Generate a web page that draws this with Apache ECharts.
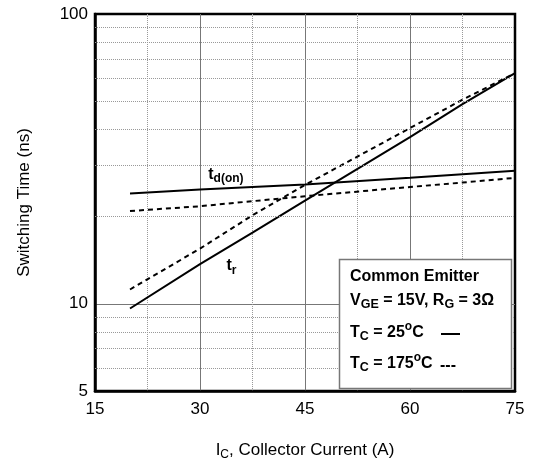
<!DOCTYPE html>
<html>
<head>
<meta charset="utf-8">
<script src="https://cdn.jsdelivr.net/npm/echarts@6/dist/echarts.min.js"></script>
<style>
html,body{margin:0;padding:0;background:#fff;}
#c{width:539px;height:466px;}
</style>
</head>
<body>
<div id="c"></div>
<script>
// Collector current (A)
const current = [20, 30, 37.5, 45, 60, 67.5, 75];
// Switching times (ns)
const tdOn25 = [24.0, 24.8, 25.3, 25.8, 27.2, 28.0, 28.8];
const tdOn175 = [20.9, 21.7, 22.6, 23.5, 25.3, 26.2, 27.2];
const tr25 = [9.63, 13.7, 17.6, 22.7, 37.6, 48.9, 62.5];
const tr175 = [11.2, 15.5, 20.2, 25.7, 40.4, 50.6, 62.5];
// Minor grid values on the log axis
const yMinorGrid = [6, 7, 8, 9, 20, 30, 40, 50, 60, 70, 80, 90];
const xTicks = [15, 30, 45, 60, 75];

const FONT = 'Liberation Sans, Arial, sans-serif';
const pairs = (ys) => current.map((x, i) => [x, ys[i]]);

const chart = echarts.init(document.getElementById('c'), null, {renderer: 'canvas'});

const subRich = {
  m: {fontSize: 16, fontWeight: 'bold', fontFamily: FONT, color: '#000'},
  s: {fontSize: 12, fontWeight: 'bold', fontFamily: FONT, color: '#000', padding: [9, 0, 0, 0]}
};

const legRich = {
  m: {fontSize: 16, fontWeight: 'bold', fontFamily: FONT, color: '#000'},
  s: {fontSize: 12.5, fontWeight: 'bold', fontFamily: FONT, color: '#000', padding: [8, 0, 0, 0]},
  p: {fontSize: 12, fontWeight: 'bold', fontFamily: FONT, color: '#000', padding: [0, 0, 12, 0]}
};

const option = {
  animation: false,
  backgroundColor: '#fff',
  grid: {left: 95, right: 24, top: 14, bottom: 74, show: true, borderColor: '#000', borderWidth: 2.5, backgroundColor: 'transparent'},
  xAxis: {
    type: 'value', min: 15, max: 75, interval: 15,
    axisLine: {show: true, lineStyle: {color: '#000', width: 2.5}},
    axisTick: {show: false},
    axisLabel: {color: '#000', fontSize: 17, fontFamily: FONT, margin: 10},
    splitLine: {show: true, showMinLine: false, showMaxLine: false, lineStyle: {color: '#777', width: 1}},
    minorTick: {show: false, splitNumber: 2},
    minorSplitLine: {show: true, lineStyle: {color: '#999', width: 1, type: [1, 1]}},
    name: '{m|I}{s|C}{m|, Collector Current (A)}',
    nameLocation: 'middle', nameGap: 49,
    nameTextStyle: {
      fontFamily: FONT, fontSize: 17, color: '#000',
      rich: {m: {fontSize: 17, fontFamily: FONT, color: '#000'}, s: {fontSize: 12, fontFamily: FONT, color: '#000', padding: [9, 0, 0, 0]}}
    }
  },
  yAxis: {
    type: 'log', logBase: 10, min: 5, max: 100,
    axisLine: {show: true, lineStyle: {color: '#000', width: 2.5}},
    axisTick: {show: false},
    axisLabel: {color: '#000', fontSize: 17, fontFamily: FONT, margin: 7},
    splitLine: {show: true, showMinLine: false, showMaxLine: false, lineStyle: {color: '#777', width: 1}},
    name: 'Switching Time (ns)',
    nameLocation: 'middle', nameGap: 62,
    nameTextStyle: {fontFamily: FONT, fontSize: 17, color: '#000'}
  },
  series: [
    {
      type: 'line', data: pairs(tdOn25), symbol: 'none', silent: true,
      lineStyle: {color: '#000', width: 2},
      markLine: {
        silent: true, symbol: 'none', label: {show: false}, animation: false,
        lineStyle: {color: '#999', width: 1, type: [1, 1]},
        data: yMinorGrid.map(v => ({yAxis: v}))
      },
      markPoint: {
        symbol: 'circle', symbolSize: 0, silent: true,
        label: {show: true, formatter: '{m|t}{s|d(on)}', rich: subRich},
        data: [{coord: [33.7, 28.0]}]
      }
    },
    {
      type: 'line', data: pairs(tdOn175), symbol: 'none', silent: true,
      lineStyle: {color: '#000', width: 2, type: [5, 4]}
    },
    {
      type: 'line', data: pairs(tr25), symbol: 'none', silent: true,
      lineStyle: {color: '#000', width: 2},
      markPoint: {
        symbol: 'circle', symbolSize: 0, silent: true,
        label: {show: true, formatter: '{m|t}{s|r}', rich: subRich},
        data: [{coord: [34.5, 13.5]}]
      }
    },
    {
      type: 'line', data: pairs(tr175), symbol: 'none', silent: true,
      lineStyle: {color: '#000', width: 2, type: [5, 4]}
    }
  ],
  graphic: [
    {
      type: 'rect', z: 100,
      shape: {x: 339.5, y: 259.5, width: 172, height: 129},
      style: {fill: '#fff', stroke: '#777', lineWidth: 1.5}
    },
    {
      type: 'text', z: 101, x: 350, y: 277,
      style: {text: 'Common Emitter', font: 'bold 16px ' + FONT, fill: '#000', verticalAlign: 'middle'}
    },
    {
      type: 'text', z: 101, x: 350, y: 301,
      style: {text: '{m|V}{s|GE}{m| = 15V, R}{s|G}{m| = 3Ω}', rich: legRich, verticalAlign: 'middle'}
    },
    {
      type: 'text', z: 101, x: 350, y: 333,
      style: {text: '{m|T}{s|C}{m| = 25}{p|o}{m|C}', rich: legRich, verticalAlign: 'middle'}
    },
    {
      type: 'text', z: 101, x: 350, y: 364,
      style: {text: '{m|T}{s|C}{m| = 175}{p|o}{m|C}', rich: legRich, verticalAlign: 'middle'}
    },
    {
      type: 'line', z: 101,
      shape: {x1: 441, y1: 334, x2: 460, y2: 334},
      style: {stroke: '#000', lineWidth: 2}
    },
    {
      type: 'text', z: 101, x: 440, y: 366,
      style: {text: '---', font: 'bold 16px ' + FONT, fill: '#000', verticalAlign: 'middle'}
    }
  ]
};
chart.setOption(option);
</script>
</body>
</html>
